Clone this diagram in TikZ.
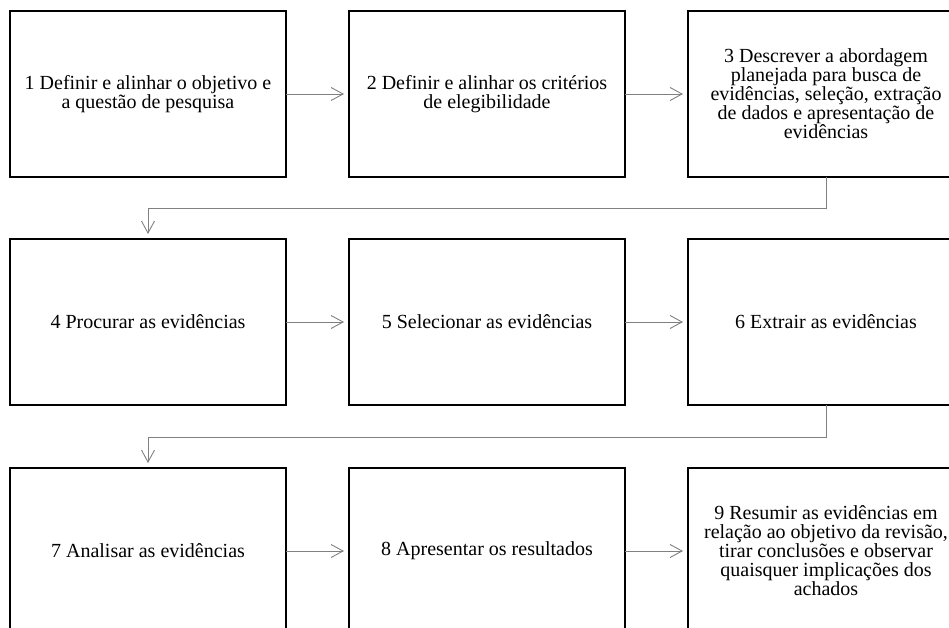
\documentclass[tikz,border=0pt]{standalone}
\usepackage{fontspec}
\setmainfont{Liberation Serif}
\usepackage{tikz}
\usetikzlibrary{arrows.meta, positioning}
\tikzset {
  stage/.style = {draw, line width=1.5pt, rectangle, fill=white, align=center, outer sep=0pt, minimum width=276pt, minimum height=166pt, font=\fontsize{20}{19}\selectfont},
  line/.style = {->, line width=0.9pt, color=gray, shorten >=5pt, >={Straight Barb[length=12pt, width=13pt]}}
}

\begin{document}
\begin{tikzpicture}[node distance=63pt]

    % the right column and the bottom row run past the edge of the page
    \clip (0pt,0pt) rectangle (949pt,-628pt);

    \node[stage, name=s1] (s1) at (148pt,-94pt) {1 Definir e alinhar o objetivo e\\a questão de pesquisa};
    \node[stage, name=s2, right=of s1] (s2) {2 Definir e alinhar os critérios\\de elegibilidade};
    \node[stage, name=s3, right=of s2] (s3) {3 Descrever a abordagem\\planejada para busca de\\evidências, seleção, extração\\de dados e apresentação de\\evidências};

    \node[stage, name=s4, below=62pt of s1] (s4) {4 Procurar as evidências};
    \node[stage, name=s5, right=of s4] (s5) {5 Selecionar as evidências};
    \node[stage, name=s6, right=of s5] (s6) {6 Extrair as evidências};

    \node[stage, name=s7, below=63pt of s4] (s7) {7 Analisar as evidências};
    \node[stage, name=s8, right=of s7] (s8) {8 Apresentar os resultados};
    \node[stage, name=s9, right=of s8] (s9) {9 Resumir as evidências em\\relação ao objetivo da revisão,\\tirar conclusões e observar\\quaisquer implicações dos\\achados};

    \draw[line] (s1) -- (s2);
    \draw[line] (s2) -- (s3);
    \draw[line] (s3.south) -- ++(0,-31pt) -| (s4.north);
    \draw[line] (s4) -- (s5);
    \draw[line] (s5) -- (s6);
    \draw[line] (s6.south) -- ++(0,-32pt) -| (s7.north);
    \draw[line] (s7) -- (s8);
    \draw[line] (s8) -- (s9);

  \end{tikzpicture}
\end{document}
